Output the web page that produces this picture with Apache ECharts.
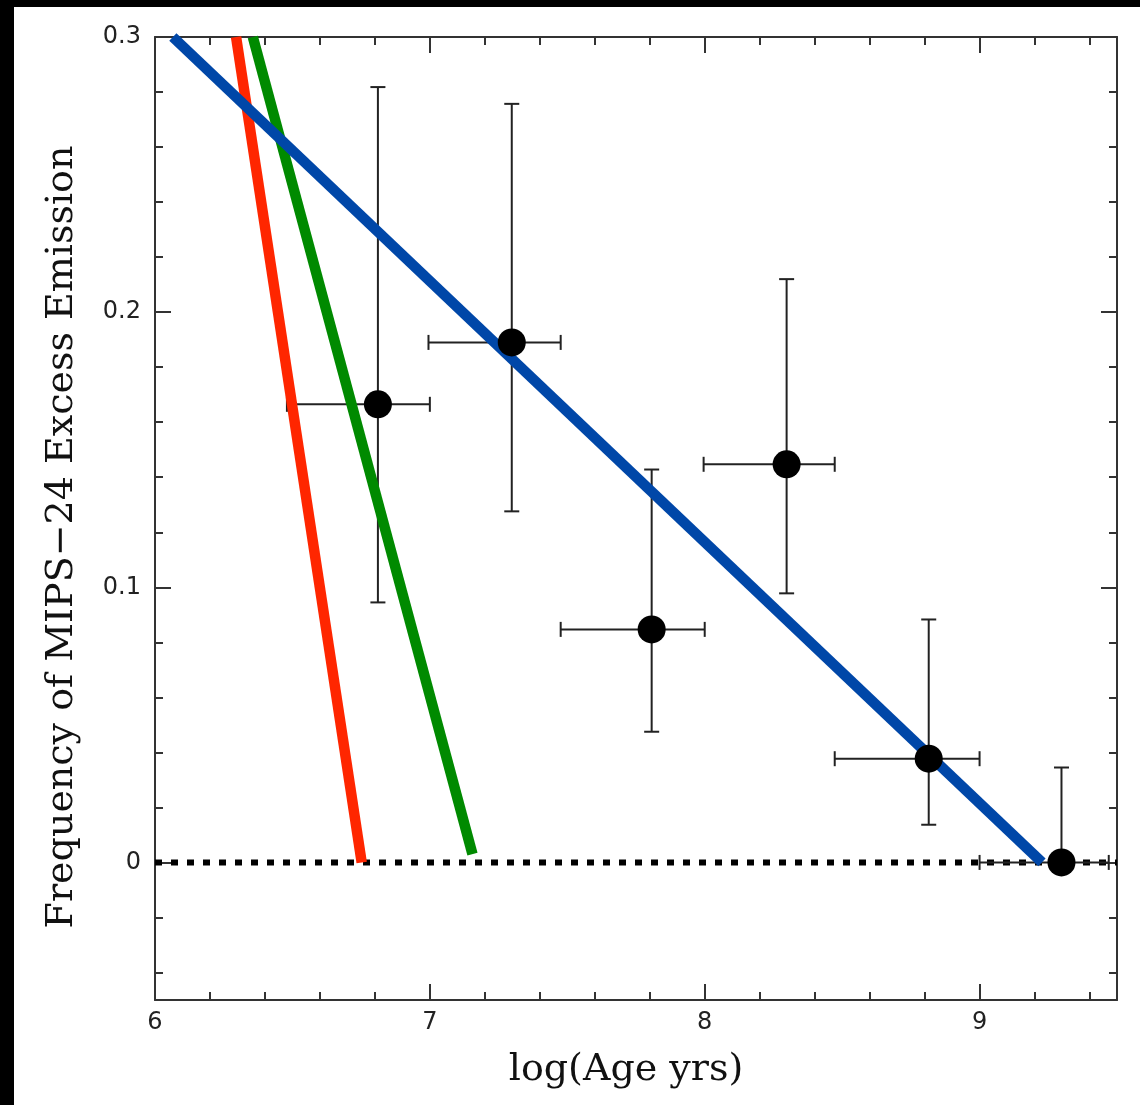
<!DOCTYPE html>
<html>
<head>
<meta charset="utf-8">
<script src="https://cdn.jsdelivr.net/npm/echarts@6/dist/echarts.min.js"></script>
<style>
  html, body { margin: 0; padding: 0; background: #000; width: 1140px; height: 1105px; overflow: hidden; }
  #chart { position: absolute; left: 14px; top: 7px; width: 1126px; height: 1098px; background: #fff; }
</style>
</head>
<body>
<div id="chart"></div>
<script>
// ---- data ----
// points: log(age), frequency
const ageX = [6.811, 7.298, 7.807, 8.298, 8.815, 9.298];
const freqY = [0.1665, 0.189, 0.0847, 0.1447, 0.0377, 0.0];
// x error ranges
const xLow = [6.48, 6.995, 7.476, 7.996, 8.473, 9.0];
const xHigh = [7.0, 7.476, 8.0, 8.473, 9.0, 9.47];
// y error ranges
const yLow = [0.0945, 0.1276, 0.0475, 0.0978, 0.0137, 0.0];
const yHigh = [0.2818, 0.2757, 0.1428, 0.212, 0.0883, 0.0345];
// model lines
const blueLine = [[6.065, 0.3], [9.227, 0.0]];
const redLine = [[6.295, 0.3], [6.752, 0.0]];
const greenLine = [[6.356, 0.3], [7.155, 0.003]];
const zeroLine = [[6.0, 0.0], [9.5, 0.0]];
// tick positions / labels
const xMajor = [6, 7, 8, 9];
const xMinor = [6.2, 6.4, 6.6, 6.8, 7.2, 7.4, 7.6, 7.8, 8.2, 8.4, 8.6, 8.8, 9.2, 9.4];
const yMajor = [0, 0.1, 0.2, 0.3];
const yMinor = [-0.04, -0.02, 0.02, 0.04, 0.06, 0.08, 0.12, 0.14, 0.16, 0.18, 0.22, 0.24, 0.26, 0.28];
const xName = 'log(Age yrs)';
const yName = 'Frequency of MIPS\u221224 Excess Emission';

const chart = echarts.init(document.getElementById('chart'), null, { renderer: 'canvas' });

const axisCol = '#333';
const labelFont = 'DejaVu Sans';

function xAx(pos, ticks, len, withLabels, showLine) {
  return {
    type: 'value', position: pos, min: 6, max: 9.5,
    axisLine: { show: showLine, onZero: false, lineStyle: { color: axisCol, width: 2 } },
    axisTick: { show: true, inside: true, length: len, customValues: ticks, lineStyle: { color: axisCol, width: 2 } },
    axisLabel: withLabels ? { show: true, customValues: xMajor, fontFamily: labelFont, fontSize: 24, color: '#222', margin: 11 } : { show: false },
    splitLine: { show: false }
  };
}
function yAx(pos, ticks, len, withLabels, showLine) {
  return {
    type: 'value', position: pos, min: -0.05, max: 0.3,
    axisLine: { show: showLine, onZero: false, lineStyle: { color: axisCol, width: 2 } },
    axisTick: { show: true, inside: true, length: len, customValues: ticks, lineStyle: { color: axisCol, width: 2 } },
    axisLabel: withLabels ? { show: true, customValues: yMajor, fontFamily: labelFont, fontSize: 24, color: '#222', margin: 14 } : { show: false },
    splitLine: { show: false }
  };
}

const errData = ageX.map((x, i) => [x, freqY[i], xLow[i], xHigh[i], yLow[i], yHigh[i]]);

function renderErr(params, api) {
  const c = api.coord([api.value(0), api.value(1)]);
  const xl = api.coord([api.value(2), api.value(1)]);
  const xh = api.coord([api.value(3), api.value(1)]);
  const yl = api.coord([api.value(0), api.value(4)]);
  const yh = api.coord([api.value(0), api.value(5)]);
  const st = { stroke: '#222', lineWidth: 2 };
  const cap = 7.5;
  return {
    type: 'group',
    children: [
      { type: 'line', shape: { x1: xl[0], y1: c[1], x2: xh[0], y2: c[1] }, style: st },
      { type: 'line', shape: { x1: xl[0], y1: c[1] - cap, x2: xl[0], y2: c[1] + cap }, style: st },
      { type: 'line', shape: { x1: xh[0], y1: c[1] - cap, x2: xh[0], y2: c[1] + cap }, style: st },
      { type: 'line', shape: { x1: c[0], y1: yl[1], x2: c[0], y2: yh[1] }, style: st },
      { type: 'line', shape: { x1: c[0] - cap, y1: yl[1], x2: c[0] + cap, y2: yl[1] }, style: st },
      { type: 'line', shape: { x1: c[0] - cap, y1: yh[1], x2: c[0] + cap, y2: yh[1] }, style: st }
    ]
  };
}

function fitLine(data, color, z) {
  return {
    type: 'line', data: data, xAxisIndex: 0, yAxisIndex: 0, symbol: 'none', z: z,
    lineStyle: { color: color, width: 10.5, cap: 'butt' }, silent: true
  };
}

const option = {
  backgroundColor: '#fff',
  animation: false,
  grid: { left: 141, top: 30, right: 23, bottom: 105, containLabel: false },
  graphic: [
    {
      type: 'text', x: 612, y: 1063,
      style: { text: xName, font: '38px "DejaVu Serif"', fill: '#111', textAlign: 'center', textVerticalAlign: 'middle' }
    },
    {
      type: 'text', x: 48, y: 530, rotation: Math.PI / 2,
      style: { text: yName, font: '38px "DejaVu Serif"', fill: '#111', textAlign: 'center', textVerticalAlign: 'middle' }
    }
  ],
  xAxis: [
    xAx('bottom', xMajor, 16, true, true),
    xAx('bottom', xMinor, 8, false, false),
    xAx('top', xMajor, 16, false, true),
    xAx('top', xMinor, 8, false, false)
  ],
  yAxis: [
    yAx('left', yMajor, 16, true, true),
    yAx('left', yMinor, 8, false, false),
    yAx('right', yMajor, 16, false, true),
    yAx('right', yMinor, 8, false, false)
  ],
  series: [
    {
      type: 'line', data: zeroLine, xAxisIndex: 0, yAxisIndex: 0, symbol: 'none', z: 2,
      lineStyle: { color: '#000', width: 6, type: [7, 9], cap: 'butt' }
    },
    {
      type: 'custom', data: errData, xAxisIndex: 0, yAxisIndex: 0, z: 3,
      renderItem: renderErr, encode: { x: 0, y: 1 }
    },
    fitLine(redLine, '#ff2600', 4),
    fitLine(greenLine, '#008a00', 4),
    fitLine(blueLine, '#0047a8', 4),
    {
      type: 'scatter', data: ageX.map((x, i) => [x, freqY[i]]), xAxisIndex: 0, yAxisIndex: 0, z: 5,
      symbol: 'circle', symbolSize: 28, itemStyle: { color: '#000', opacity: 1 }
    }
  ]
};
chart.setOption(option);
</script>
</body>
</html>
